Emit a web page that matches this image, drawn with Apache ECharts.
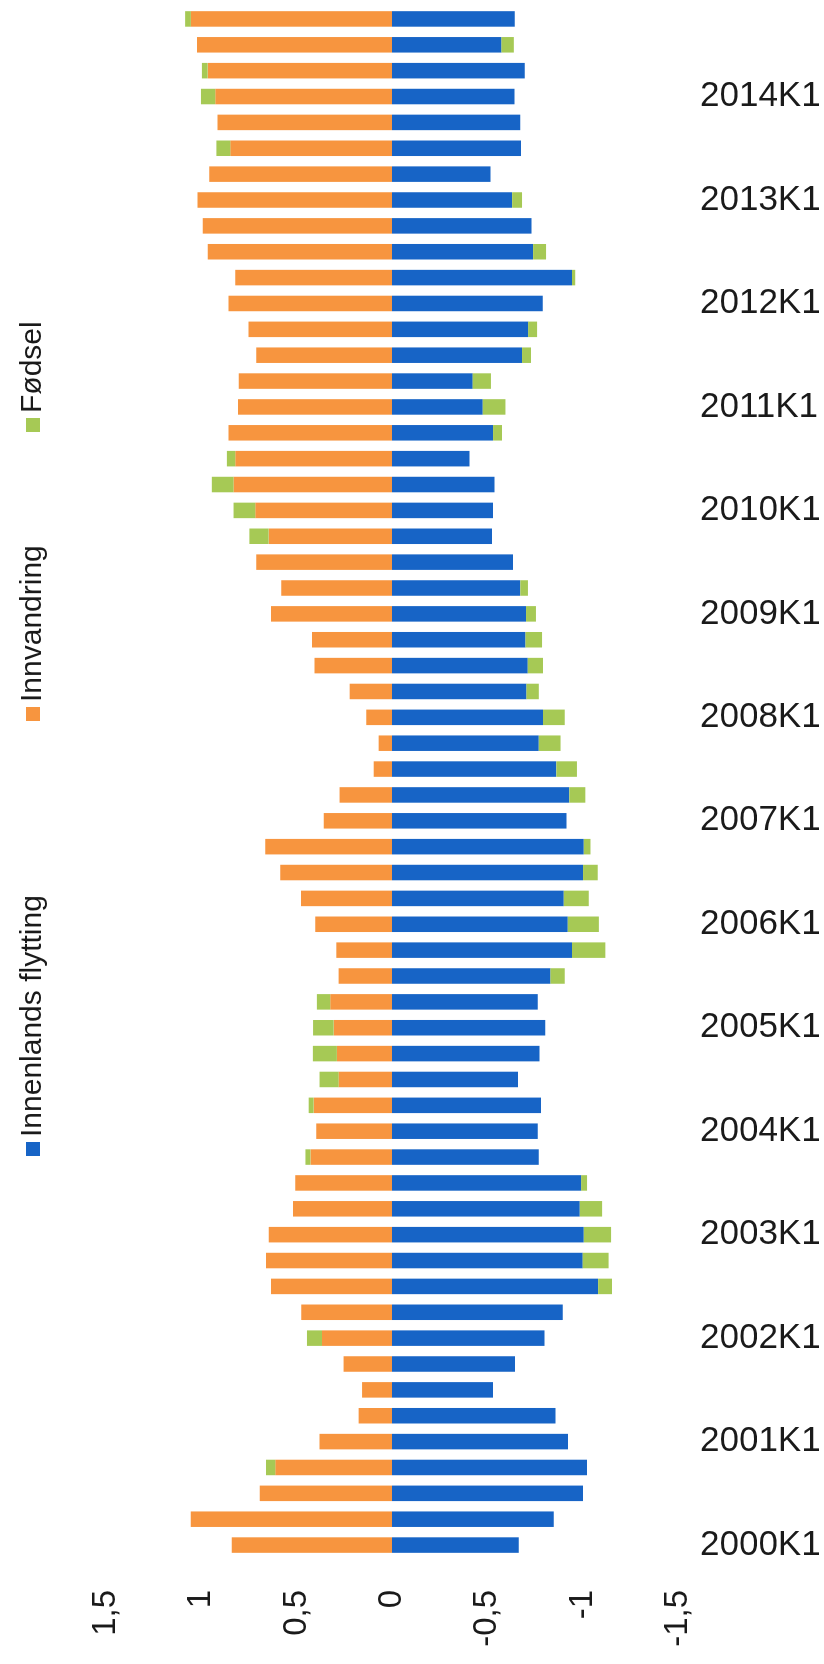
<!DOCTYPE html>
<html>
<head>
<meta charset="utf-8">
<script src="https://cdn.jsdelivr.net/npm/echarts@6/dist/echarts.min.js"></script>
<style>
  html, body { margin: 0; padding: 0; background: #fff; overflow: hidden; width: 824px; height: 1664px; }
  /* the chart is a normal column chart, turned a quarter turn to the left */
  #chart { position: absolute; left: 0; top: 0; width: 1664px; height: 824px;
           transform-origin: 0 0; transform: translateY(1664px) rotate(-90deg); }
</style>
</head>
<body>
<div id="chart"></div>
<script>
// kvartal 2000K1 - 2014K4
var kvartal = [
  '2000K1', '2000K2', '2000K3', '2000K4', '2001K1', '2001K2', '2001K3', '2001K4',
  '2002K1', '2002K2', '2002K3', '2002K4', '2003K1', '2003K2', '2003K3', '2003K4',
  '2004K1', '2004K2', '2004K3', '2004K4', '2005K1', '2005K2', '2005K3', '2005K4',
  '2006K1', '2006K2', '2006K3', '2006K4', '2007K1', '2007K2', '2007K3', '2007K4',
  '2008K1', '2008K2', '2008K3', '2008K4', '2009K1', '2009K2', '2009K3', '2009K4',
  '2010K1', '2010K2', '2010K3', '2010K4', '2011K1', '2011K2', '2011K3', '2011K4',
  '2012K1', '2012K2', '2012K3', '2012K4', '2013K1', '2013K2', '2013K3', '2013K4',
  '2014K1', '2014K2', '2014K3', '2014K4'
]

var innenlands = [
  -0.665, -0.848, -1.002, -1.023, -0.923, -0.857, -0.530, -0.645,
  -0.800, -0.895, -1.081, -1.000, -1.006, -0.985, -0.992, -0.770,
  -0.764, -0.782, -0.661, -0.773, -0.804, -0.764, -0.831, -0.944,
  -0.922, -0.901, -1.002, -1.006, -0.915, -0.930, -0.862, -0.770,
  -0.792, -0.705, -0.712, -0.700, -0.703, -0.673, -0.635, -0.525,
  -0.530, -0.537, -0.406, -0.530, -0.476, -0.423, -0.682, -0.714,
  -0.790, -0.944, -0.740, -0.731, -0.630, -0.516, -0.677, -0.673,
  -0.642, -0.696, -0.574, -0.644
]

var innvandring = [
  0.840, 1.055, 0.694, 0.612, 0.380, 0.175, 0.157, 0.254,
  0.367, 0.476, 0.635, 0.661, 0.647, 0.519, 0.507, 0.428,
  0.397, 0.411, 0.280, 0.289, 0.306, 0.324, 0.280, 0.292,
  0.402, 0.477, 0.586, 0.665, 0.358, 0.275, 0.096, 0.070,
  0.135, 0.222, 0.407, 0.420, 0.635, 0.581, 0.712, 0.647,
  0.717, 0.831, 0.822, 0.857, 0.808, 0.804, 0.712, 0.752,
  0.857, 0.822, 0.967, 0.992, 1.020, 0.958, 0.848, 0.915,
  0.927, 0.967, 1.023, 1.055
]

var fodsel = [
  0, 0, 0, 0.049, 0, 0, 0, 0,
  0.079, 0, -0.073, -0.136, -0.143, -0.117, -0.031, 0.026,
  0, 0.026, 0.100, 0.126, 0.108, 0.070, -0.075, -0.175,
  -0.163, -0.131, -0.077, -0.035, 0, -0.084, -0.108, -0.114,
  -0.114, -0.065, -0.080, -0.087, -0.052, -0.040, 0, 0.101,
  0.114, 0.114, 0.044, -0.047, -0.119, -0.096, -0.047, -0.047,
  0, -0.017, -0.068, 0, -0.052, 0, 0.073, 0,
  0.075, 0.030, -0.065, 0.030
]

var farger = ['#1764c6', '#f7953f', '#a6c955']
var tekstFont = 'Liberation Sans, Arial, sans-serif'

function legendItem(navn, venstre) {
  return {
    data: [navn],
    left: venstre,
    top: 13,
    icon: 'rect',
    itemWidth: 14,
    itemHeight: 14,
    itemGap: 6,
    selectedMode: false,
    textStyle: { fontFamily: tekstFont, fontSize: 30, color: '#1a1a1a' }
  }
}

var chart = echarts.init(document.getElementById('chart'), null, { width: 1664, height: 824 })

var option = {
  animation: false,
  color: farger,
  legend: [
    legendItem('Innenlands flytting', 503),
    legendItem('Innvandring', 938),
    legendItem('Fødsel', 1227)
  ],
  grid: { left: 106, right: 6, top: 106, bottom: 146, containLabel: false },
  xAxis: {
    type: 'category',
    data: kvartal,
    axisLine: { show: false },
    axisTick: { show: false },
    axisLabel: {
      interval: 3,
      rotate: -90,
      margin: 22,
      fontFamily: tekstFont,
      fontSize: 35,
      color: '#1a1a1a'
    }
  },
  yAxis: {
    type: 'value',
    min: -1.5,
    max: 1.5,
    interval: 0.5,
    splitLine: { show: false },
    axisLine: { show: false },
    axisTick: { show: false },
    axisLabel: {
      margin: 32,
      fontFamily: tekstFont,
      fontSize: 33,
      color: '#1a1a1a',
      formatter: function (v) { return String(v).replace('.', ',') }
    }
  },
  series: [
    { name: 'Innenlands flytting', type: 'bar', stack: 'sum', barWidth: '60%', data: innenlands },
    { name: 'Innvandring', type: 'bar', stack: 'sum', barWidth: '60%', data: innvandring },
    { name: 'Fødsel', type: 'bar', stack: 'sum', barWidth: '60%', data: fodsel }
  ]
}

chart.setOption(option)
</script>
</body>
</html>
